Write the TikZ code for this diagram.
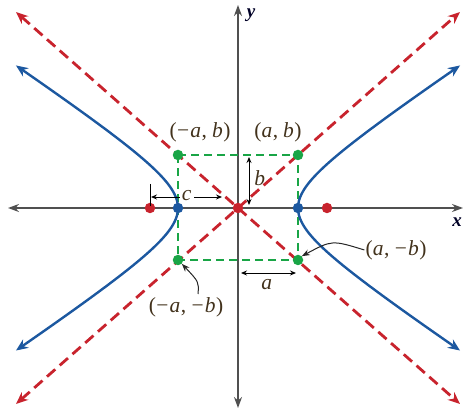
\documentclass[tikz,border=0pt]{standalone}
\usepackage{fontspec}
\setmainfont{Liberation Serif}
\usetikzlibrary{arrows.meta}
\definecolor{hblue}{RGB}{28,88,160}
\definecolor{ared}{RGB}{200,35,45}
\definecolor{bgreen}{RGB}{25,165,70}
\definecolor{axgray}{RGB}{80,80,80}
\definecolor{labc}{RGB}{66,50,28}
\newcommand{\iv}[1]{\textit{#1}\kern0.5pt}
\newcommand{\mn}{\kern0.5pt−\kern1pt}
\newcommand{\cm}{,\hspace{5pt}}
\tikzset{
  axis/.style={draw=axgray, line width=2.6pt, {Stealth[length=11pt,width=8pt]}-{Stealth[length=11pt,width=8pt]}},
  asym/.style={draw=ared, line width=2.8pt, dash pattern=on 11pt off 6pt, {Stealth[length=12pt,width=10pt]}-{Stealth[length=12pt,width=10pt]}},
  hyp/.style={draw=hblue, line width=2.4pt, {Stealth[length=12pt,width=10pt]}-{Stealth[length=12pt,width=10pt]}},
  boxline/.style={draw=bgreen, line width=2.4pt, dash pattern=on 8pt off 5pt},
  dot/.style={circle, inner sep=0pt, minimum size=10.5pt},
  lab/.style={text=labc, font=\fontsize{21.5}{23}\selectfont, inner sep=1pt},
  dim/.style={draw=black, line width=0.9pt, {Stealth[length=6pt,width=5pt]}-{Stealth[length=6pt,width=5pt]}},
  dimone/.style={draw=black, line width=0.9pt, -{Stealth[length=6pt,width=5pt]}},
  callout/.style={draw=black!85, line width=1pt, -{Stealth[length=8pt,width=6pt]}}
}
\begin{document}
\begin{tikzpicture}[x=1pt,y=-1pt]
\useasboundingbox (0,0) rectangle (464,411);
% axes
\coordinate (xl) at (8,208);
\coordinate (xr) at (463,208);
\coordinate (yt) at (238,5);
\coordinate (yb) at (238,408);
\draw[axis] (xl) -- (xr);
\draw[axis] (yb) -- (yt);
\node[font=\fontsize{19}{21}\selectfont\bfseries\itshape, text=black!85!blue] (xlab) at (457,222) {x};
\node[font=\fontsize{19}{21}\selectfont\bfseries\itshape, text=black!85!blue] (ylab) at (251,15) {y};
% asymptotes
\coordinate (a1) at (16,12);
\coordinate (a2) at (460,404);
\coordinate (a3) at (16,404);
\coordinate (a4) at (460,12);
\draw[asym] (a1) -- (a2);
\draw[asym] (a3) -- (a4);
% rectangle
\coordinate (pTL) at (178,155);
\coordinate (pTR) at (298,155);
\coordinate (pBL) at (178,260);
\coordinate (pBR) at (298,260);
\draw[boxline] (pTL) -- (pTR) -- (pBR) -- (pBL) -- cycle;
% hyperbola
\draw[hyp] plot[domain=-1.983:1.983, samples=80, smooth] ({238+60*cosh(\x)}, {208+40*sinh(\x)});
\draw[hyp] plot[domain=-1.983:1.983, samples=80, smooth] ({238-60*cosh(\x)}, {208+40*sinh(\x)});
% dots
\node[dot, fill=ared] (fL) at (150,208) {};
\node[dot, fill=ared] (fR) at (327,208) {};
\node[dot, fill=ared] (O) at (238,208) {};
\node[dot, fill=hblue] (vL) at (178,208) {};
\node[dot, fill=hblue] (vR) at (298,208) {};
\node[dot, fill=bgreen] (gTL) at (pTL) {};
\node[dot, fill=bgreen] (gTR) at (pTR) {};
\node[dot, fill=bgreen] (gBL) at (pBL) {};
\node[dot, fill=bgreen] (gBR) at (pBR) {};
% labels
\node[lab] (lTL) at (200,132) {(\mn\iv{a}\cm\iv{b})};
\node[lab] (lTR) at (278,132) {(\iv{a}\cm\iv{b})};
\node[lab] (lBR) at (396,250) {(\iv{a}\cm\mn\iv{b})};
\node[lab] (lBL) at (186,307) {(\mn\iv{a}\cm\mn\iv{b})};
% c dimension
\coordinate (ct1) at (150,184);
\coordinate (ct2) at (150,206);
\draw[black, line width=0.9pt] (ct1) -- (ct2);
\node[lab, inner sep=2pt] (clab) at (187,196) {\iv{c}};
\coordinate (cl) at (151,197);
\coordinate (cr) at (222,197);
\draw[dimone] (clab.west |- cl) -- (cl);
\draw[dimone] (clab.east |- cr) -- (cr);
% b dimension
\coordinate (bt) at (249,157);
\coordinate (bb) at (249,205);
\draw[dim] (bb) -- (bt);
\node[lab] (blab) at (260,178) {\iv{b}};
% a dimension
\coordinate (al) at (241,273);
\coordinate (ar) at (296,273);
\draw[dim] (al) -- (ar);
\node[lab] (alab) at (267,285) {\iv{a}};
% callouts
\draw[callout] (lBR.west) .. controls (332,240) .. (gBR.north east);
\coordinate (cs) at (198,294);
\draw[callout] (cs) .. controls (199,282) .. (gBL.south east);
\end{tikzpicture}
\end{document}
